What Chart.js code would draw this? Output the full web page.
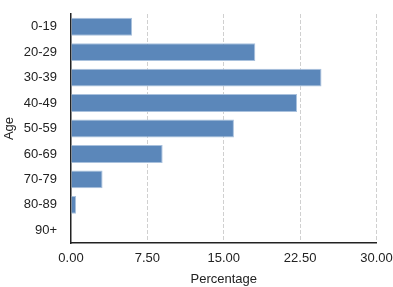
<!DOCTYPE html>
<html>
<head>
<meta charset="utf-8">
<script src="https://cdn.jsdelivr.net/npm/chart.js@4"></script>
<style>
  html, body { margin: 0; padding: 0; background: #fff; }
  #wrap { width: 393px; height: 287px; }
</style>
</head>
<body>
<div id="wrap"><canvas id="ageChart"></canvas></div>
<script>
// data
const ageGroups = ['0-19', '20-29', '30-39', '40-49', '50-59', '60-69', '70-79', '80-89', '90+'];
const percentages = [6.0, 18.1, 24.6, 22.2, 16.0, 9.0, 3.1, 0.5, 0];
const xTicks = [0, 7.5, 15, 22.5, 30];

const fontFamily = '"Liberation Sans", Arial, Helvetica, sans-serif';

new Chart(document.getElementById('ageChart'), {
    type: 'bar',
    data: {
        labels: ageGroups,
        datasets: [{
            data: percentages,
            backgroundColor: '#5b87ba',
            borderColor: '#a9c1dd',
            borderWidth: 1,
            categoryPercentage: 0.8,
            barPercentage: 0.88
        }]
    },
    options: {
        indexAxis: 'y',
        responsive: true,
        maintainAspectRatio: false,
        animation: false,
        layout: { padding: { top: 14, right: 0, left: 0, bottom: 0 } },
        plugins: {
            legend: { display: false },
            tooltip: { enabled: false }
        },
        scales: {
            x: {
                min: 0,
                max: 30,
                afterBuildTicks: (scale) => { scale.ticks = xTicks.map(v => ({ value: v })); },
                afterFit: (scale) => { scale.height = 44; scale.paddingRight = 16.5; },
                grid: {
                    color: (ctx) => ctx.tick && ctx.tick.value === 0 ? 'rgba(0,0,0,0)' : '#d0d0d0',
                    lineWidth: 1,
                    drawTicks: false
                },
                // in v4 border.dash styles the grid lines, the axis line stays solid
                border: { display: true, color: '#222', width: 1.5, dash: [4, 2] },
                ticks: {
                    padding: 8,
                    color: '#222',
                    font: { family: fontFamily, size: 13 },
                    callback: (v) => Number(v).toFixed(2)
                },
                title: {
                    display: true,
                    text: 'Percentage',
                    color: '#222',
                    font: { family: fontFamily, size: 13 },
                    padding: { top: 8, bottom: 0 }
                }
            },
            y: {
                afterFit: (scale) => {
                    scale.width = 71;
                    scale.paddingTop = 0;
                    scale.paddingBottom = 0;
                },
                grid: { display: false, drawTicks: false },
                border: { display: true, color: '#222', width: 1.5 },
                ticks: {
                    padding: 14,
                    color: '#222',
                    font: { family: fontFamily, size: 13 }
                },
                title: {
                    display: true,
                    text: 'Age',
                    color: '#222',
                    font: { family: fontFamily, size: 13 },
                    padding: { top: 2, bottom: 0 }
                }
            }
        }
    }
});
</script>
</body>
</html>
